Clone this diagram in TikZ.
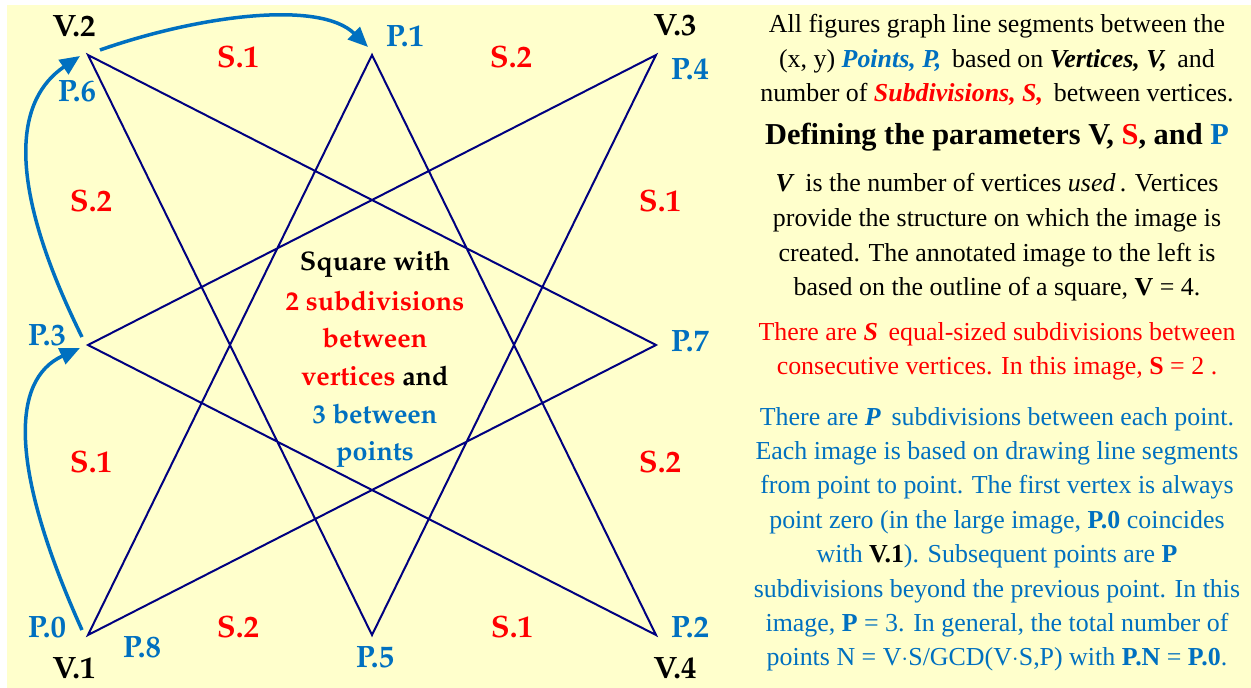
\documentclass[tikz,border=0pt]{standalone}
\usepackage[T1]{fontenc}
\usepackage{fontspec}
\setmainfont{Liberation Serif}
\usetikzlibrary{arrows.meta}
\definecolor{bgyellow}{HTML}{FFFFCC}
\definecolor{navy}{HTML}{000080}
\definecolor{pblue}{HTML}{0070C0}
\definecolor{sred}{HTML}{FF0000}
\newcommand\palb{\fontencoding{T1}\fontfamily{ppl}\fontseries{b}\fontshape{n}\selectfont}
\tikzset{
  starline/.style={draw=navy, line width=2bp, line join=miter},
  flow/.style={draw=pblue, line width=3.5bp, -{Triangle[length=20bp,width=17bp]}},
  lab/.style={font=\palb\fontsize{31}{33}\selectfont, anchor=base, inner sep=0pt},
  vlab/.style={lab, text=black},
  plab/.style={lab, text=pblue},
  slab/.style={lab, text=sred},
  ctr/.style={font=\palb\fontsize{27}{30}\selectfont, anchor=base, inner sep=0pt},
  rt/.style={font=\fontsize{26}{30}\selectfont, anchor=base, inner sep=0pt},
  rth/.style={font=\bfseries\fontsize{30.5}{32}\selectfont, anchor=base, inner sep=0pt},
}
\begin{document}
\begin{tikzpicture}[x=1bp,y=-1bp]
\useasboundingbox (0,0) rectangle (1251,688);
\fill[white] (0,0) rectangle (1251,688);
\fill[bgyellow] (7,5) rectangle (1251,688);
% points of the star
\coordinate (P0) at (88,635);
\coordinate (P1) at (372,55);
\coordinate (P2) at (656,635);
\coordinate (P3) at (88,345);
\coordinate (P4) at (656,55);
\coordinate (P5) at (372,635);
\coordinate (P6) at (88,55);
\coordinate (P7) at (656,345);
\draw[starline] (P0) -- (P1) -- (P2) -- (P3) -- (P4) -- (P5) -- (P6) -- (P7) -- cycle;
% arrows
\coordinate (a1s) at (82,630);
\coordinate (a1e) at (80,348);
\coordinate (a2s) at (82,337);
\coordinate (a2e) at (80,56);
\coordinate (a3s) at (100,50);
\coordinate (a3e) at (368,47);
\draw[flow] (a1s) .. controls (10,470) and (10,380) .. (a1e);
\draw[flow] (a2s) .. controls (2,175) and (18,98) .. (a2e);
\draw[flow] (a3s) .. controls (200,15) and (320,0) .. (a3e);
% vertex labels
\node[vlab] (v2) at (74,37) {V.2};
\node[vlab] (v3) at (675,36) {V.3};
\node[vlab] (v1) at (74,678) {V.1};
\node[vlab] (v4) at (675,678) {V.4};
% point labels
\node[plab] (l6) at (77,102) {P.6};
\node[plab] (l1) at (405,47) {P.1};
\node[plab] (l4) at (690,80) {P.4};
\node[plab] (l3) at (47,345) {P.3};
\node[plab] (l7) at (690,351) {P.7};
\node[plab] (l0) at (47,637) {P.0};
\node[plab] (l8) at (142,657) {P.8};
\node[plab] (l5) at (375,667) {P.5};
\node[plab] (l2) at (690,637) {P.2};
% subdivision labels
\node[slab] (s1) at (238,68) {S.1};
\node[slab] (s2) at (511,68) {S.2};
\node[slab] (s3) at (660,212) {S.1};
\node[slab] (s4) at (660,472) {S.2};
\node[slab] (s5) at (512,637) {S.1};
\node[slab] (s6) at (238,637) {S.2};
\node[slab] (s7) at (91,472) {S.1};
\node[slab] (s8) at (91,212) {S.2};
% centre text
\node[ctr] (c1) at (375,270) {Square with};
\node[ctr,text=sred] (c2) at (375,310) {2 subdivisions};
\node[ctr,text=sred] (c3) at (375,347) {between};
\node[ctr] (c4) at (375,385) {\textcolor{sred}{vertices} and};
\node[ctr,text=pblue] (c5) at (375,423) {3 between};
\node[ctr,text=pblue] (c6) at (375,460) {points};
% right text
\node[rt] (t1) at (997,33) {All figures graph line segments between the};
\node[rt] (t2) at (997,68) {(x, y) \textcolor{pblue}{\textbf{\textit{Points, P,}}}\, based on \textbf{\textit{Vertices, V,}}\, and};
\node[rt] (t3) at (997,102) {number of \textcolor{sred}{\textbf{\textit{Subdivisions, S,}}}\, between vertices.};
\node[rth] (t4) at (997,145) {Defining the parameters V, \textcolor{sred}{S}, and \textcolor{pblue}{P}};
\node[rt] (t5) at (997,192) {\textbf{\textit{V}}\, is the number of vertices \textit{used}\,. Vertices};
\node[rt] (t6) at (997,227) {provide the structure on which the image is};
\node[rt] (t7) at (997,261) {created. The annotated image to the left is};
\node[rt] (t8) at (997,295) {based on the outline of a square, \textbf{V} = 4.};
\node[rt,text=sred] (t9) at (997,340) {There are \textbf{\textit{S}}\, equal-sized subdivisions between};
\node[rt,text=sred] (t10) at (997,374) {consecutive vertices. In this image, \textbf{S} = 2 .};
\node[rt,text=pblue] (t11) at (997,425) {There are \textbf{\textit{P}}\, subdivisions between each point.};
\node[rt,text=pblue] (t12) at (997,459) {Each image is based on drawing line segments};
\node[rt,text=pblue] (t13) at (997,493) {from point to point. The first vertex is always};
\node[rt,text=pblue] (t14) at (997,528) {point zero (in the large image, \textbf{P.0} coincides};
\node[rt,text=pblue] (t15) at (997,562) {with \textcolor{black}{\textbf{V.1}}). Subsequent points are \textbf{P}};
\node[rt,text=pblue] (t16) at (997,597) {subdivisions beyond the previous point. In this};
\node[rt,text=pblue] (t17) at (997,631) {image, \textbf{P} = 3. In general, the total number of};
\node[rt,text=pblue] (t18) at (997,665) {points N = V$\cdot$S/GCD(V$\cdot$S,P) with \textbf{P.N} = \textbf{P.0}.};
\end{tikzpicture}
\end{document}
